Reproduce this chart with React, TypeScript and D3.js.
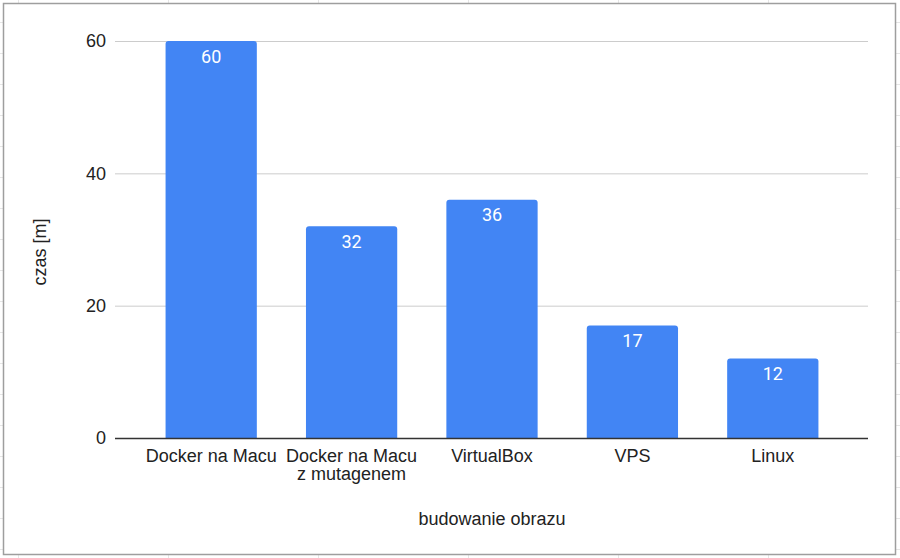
import React from "react";
import * as d3 from "d3";

const categories: string[][] = [
  ["Docker na Macu"],
  ["Docker na Macu", "z mutagenem"],
  ["VirtualBox"],
  ["VPS"],
  ["Linux"],
];
const values: number[] = [60, 32, 36, 17, 12];
const yTicks: number[] = [0, 20, 40, 60];
const xTitle = "budowanie obrazu";
const yTitle = "czas [m]";

const W = 900;
const H = 558;

export default function App() {
  const plotLeft = 115;
  const plotRight = 868;
  const y = d3.scaleLinear().domain([0, 60]).range([438, 41]);
  const x = d3
    .scaleBand<number>()
    .domain(values.map((_, i) => i))
    .range([141, 843])
    .paddingInner(0.35)
    .paddingOuter(0.175);

  const bw = x.bandwidth();
  const r = 3;
  const barPath = (xi: number, v: number) => {
    const x0 = xi;
    const x1 = xi + bw;
    const yt = y(v);
    const yb = y(0);
    return `M${x0},${yb}L${x0},${yt + r}Q${x0},${yt} ${x0 + r},${yt}L${x1 - r},${yt}Q${x1},${yt} ${x1},${yt + r}L${x1},${yb}Z`;
  };

  // faint spreadsheet grid in the background
  const colLines = d3.range(18, W, 150);
  const rowLines = d3.range(22, H, 31);

  const font = "Arial, 'Liberation Sans', sans-serif";
  const fs = 18;

  return (
    <svg
      width={W}
      height={H}
      style={{ position: "absolute", left: 0, top: 0, background: "#fff" }}
    >
      <g stroke="#e6e6e6" strokeWidth={1}>
        {colLines.map((cx) => (
          <line key={"c" + cx} x1={cx + 0.5} x2={cx + 0.5} y1={0} y2={H} />
        ))}
        {rowLines.map((ry) => (
          <line key={"r" + ry} x1={0} x2={W} y1={ry + 0.5} y2={ry + 0.5} />
        ))}
      </g>
      <rect x={3.5} y={3.5} width={892} height={551} fill="#fff" stroke="#9e9e9e" strokeWidth={1.5} />

      {yTicks.map((t) => (
        <g key={t}>
          {t !== 0 && (
            <line x1={plotLeft} x2={plotRight} y1={y(t) + 0.5} y2={y(t) + 0.5} stroke="#cccccc" strokeWidth={1} />
          )}
          <text
            x={106}
            y={y(t)}
            dy="0.36em"
            textAnchor="end"
            fontFamily={font}
            fontSize={fs}
            fill="#222"
          >
            {t}
          </text>
        </g>
      ))}

      {values.map((v, i) => (
        <g key={i}>
          <path d={barPath(x(i)!, v)} fill="#4285f4" />
          <text
            x={x(i)! + bw / 2}
            y={y(v) + 21.5}
            textAnchor="middle"
            fontFamily="Roboto, Arial, sans-serif"
            fontSize={fs}
            fill="#ffffff"
          >
            {v}
          </text>
        </g>
      ))}

      <line x1={plotLeft} x2={plotRight} y1={y(0) + 0.5} y2={y(0) + 0.5} stroke="#333" strokeWidth={1.3} />

      {categories.map((lines, i) => (
        <text
          key={i}
          x={x(i)! + bw / 2}
          y={462}
          textAnchor="middle"
          fontFamily={font}
          fontSize={fs}
          fill="#222"
        >
          {lines.map((l, j) => (
            <tspan key={j} x={x(i)! + bw / 2} dy={j === 0 ? 0 : 18}>
              {l}
            </tspan>
          ))}
        </text>
      ))}

      <text x={492} y={525} textAnchor="middle" fontFamily={font} fontSize={fs} fill="#222">
        {xTitle}
      </text>
      <text
        transform={`translate(46, 252) rotate(-90)`}
        textAnchor="middle"
        fontFamily={font}
        fontSize={fs}
        fill="#222"
      >
        {yTitle}
      </text>
    </svg>
  );
}
